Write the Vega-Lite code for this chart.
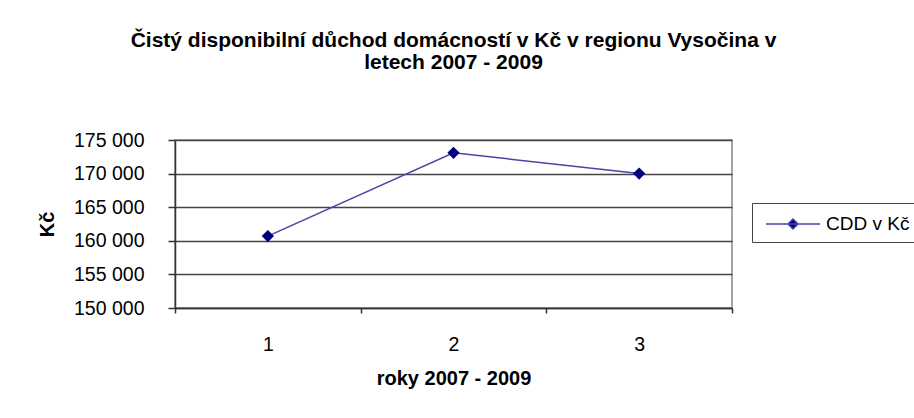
{
  "$schema": "https://vega.github.io/schema/vega-lite/v6.json",
  "autosize": {"type": "none"},
  "width": 557,
  "height": 168,
  "padding": {"left": 175, "top": 140, "right": 182, "bottom": 110},
  "background": "white",
  "title": {
    "text": ["Čistý disponibilní důchod domácností v Kč v regionu Vysočina v", "letech 2007 - 2009"],
    "font": "Liberation Sans",
    "fontSize": 21,
    "fontWeight": "bold",
    "color": "black",
    "anchor": "middle",
    "offset": 57,
    "lineHeight": 22
  },
  "data": {
    "values": [
      {"rok": "1", "hodnota": 160700, "serie": "CDD v Kč"},
      {"rok": "2", "hodnota": 173100, "serie": "CDD v Kč"},
      {"rok": "3", "hodnota": 170000, "serie": "CDD v Kč"}
    ]
  },
  "encoding": {
    "x": {
      "field": "rok",
      "type": "ordinal",
      "scale": {"type": "band", "paddingInner": 0, "paddingOuter": 0},
      "axis": {
        "title": "roky 2007 - 2009",
        "labelAngle": 0,
        "tickBand": "extent",
        "tickSize": 5,
        "labelPadding": 22,
        "titlePadding": 15,
        "grid": false
      }
    },
    "y": {
      "field": "hodnota",
      "type": "quantitative",
      "scale": {"domain": [150000, 175000], "zero": false, "nice": false},
      "axis": {
        "title": "Kč",
        "values": [150000, 155000, 160000, 165000, 170000, 175000],
        "labelExpr": "replace(format(datum.value, ','), ',', ' ')",
        "tickSize": 7,
        "labelPadding": 24,
        "titlePadding": 16,
        "grid": true
      }
    }
  },
  "layer": [
    {
      "mark": {"type": "line", "strokeWidth": 1.5},
      "encoding": {
        "color": {
          "field": "serie",
          "type": "nominal",
          "scale": {"range": ["#4545a8"]},
          "legend": {
            "title": null,
            "orient": "none",
            "legendX": 577,
            "legendY": 63,
            "strokeColor": "#444444",
            "padding": 8,
            "symbolType": "M-2.25,0H2.25M-0.42,0L0,-0.42L0.42,0L0,0.42Z",
            "symbolSize": 576,
            "symbolOffset": 20,
            "symbolStrokeWidth": 1.5,
            "symbolFillColor": "#00007f",
            "symbolStrokeColor": "#4545a8",
            "labelFont": "Liberation Sans",
            "labelFontSize": 19,
            "labelColor": "black",
            "labelOffset": 20
          }
        }
      }
    },
    {
      "mark": {"type": "point", "shape": "diamond", "filled": true, "size": 150, "color": "#00007f", "opacity": 1}
    }
  ],
  "config": {
    "view": {"stroke": "#888888", "strokeWidth": 1.5},
    "axis": {
      "labelFont": "Liberation Sans",
      "labelFontSize": 19.5,
      "labelColor": "black",
      "titleFont": "Liberation Sans",
      "titleFontSize": 20,
      "titleFontWeight": "bold",
      "titleColor": "black",
      "domainColor": "#333333",
      "domainWidth": 1.5,
      "tickColor": "#333333",
      "tickWidth": 1.5,
      "gridColor": "#444444",
      "gridWidth": 1.5,
      "gridOpacity": 1
    }
  }
}
